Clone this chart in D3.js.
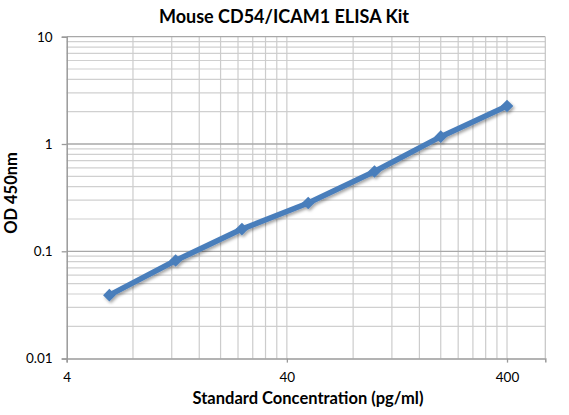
<!DOCTYPE html>
<html>
<head>
<meta charset="utf-8">
<script src="https://cdn.jsdelivr.net/npm/d3@7"></script>
<style>
  body { margin: 0; background: #fff; }
  svg { display: block; font-family: Lato, "Open Sans", sans-serif; }
</style>
</head>
<body>
<div id="chart"></div>
<script>
// Standard curve, log-log
const concentrations = [6.25, 12.5, 25, 50, 100, 200, 400];
const odValues = [0.039, 0.082, 0.161, 0.282, 0.554, 1.17, 2.26];
const xTicks = [4, 40, 400];
const yTicks = [0.01, 0.1, 1, 10];
const xDomain = [4, 597];
const yDomain = [0.01, 10];

const width = 569, height = 415;
const margin = { top: 36.7, right: 23.7, bottom: 56.4, left: 66.7 };
const w = width - margin.left - margin.right;
const h = height - margin.top - margin.bottom;

const svg = d3.select("#chart")
  .append("svg")
    .attr("width", width)
    .attr("height", height);

// drop shadow for the line and markers
const defs = svg.append("defs");
defs.append("filter")
    .attr("id", "shadow")
    .attr("x", "-20%").attr("y", "-20%")
    .attr("width", "140%").attr("height", "140%")
  .append("feDropShadow")
    .attr("dx", 1.5).attr("dy", 2)
    .attr("stdDeviation", 1.5)
    .attr("flood-color", "#000")
    .attr("flood-opacity", 0.35);

const g = svg.append("g")
    .attr("transform", `translate(${margin.left},${margin.top})`);

const x = d3.scaleLog().domain(xDomain).range([0, w]);
const y = d3.scaleLog().domain(yDomain).range([h, 0]);

// minor positions: multiples of each major (Excel style)
const xMinor = [];
xTicks.forEach(t => { for (let k = 2; k <= 9; k++) if (t * k <= xDomain[1]) xMinor.push(t * k); });
const yMinor = [];
yTicks.slice(0, -1).forEach(t => { for (let k = 2; k <= 9; k++) yMinor.push(t * k); });

// gridlines
g.append("g").selectAll("line")
  .data(yMinor)
  .join("line")
    .attr("x1", 0).attr("x2", w)
    .attr("y1", d => y(d)).attr("y2", d => y(d))
    .attr("stroke", "#d0d0d0")
    .attr("stroke-width", 1.2);

g.append("g").selectAll("line")
  .data(xMinor.concat(xTicks.slice(1)))
  .join("line")
    .attr("x1", d => x(d)).attr("x2", d => x(d))
    .attr("y1", 0).attr("y2", h)
    .attr("stroke", "#cccccc")
    .attr("stroke-width", 1.2);

g.append("g").selectAll("line")
  .data(yTicks.slice(1))
  .join("line")
    .attr("x1", 0).attr("x2", w)
    .attr("y1", d => y(d)).attr("y2", d => y(d))
    .attr("stroke", "#a8a8a8")
    .attr("stroke-width", 1.3);

// right border
g.append("line")
    .attr("x1", w).attr("x2", w)
    .attr("y1", 0).attr("y2", h)
    .attr("stroke", "#c4c4c4")
    .attr("stroke-width", 1.2);

// axes
const xAxis = g.append("g")
    .attr("transform", `translate(0,${h})`)
    .call(d3.axisBottom(x).tickValues(xTicks).tickFormat(d3.format("d")).tickSize(4).tickPadding(10));

const yAxis = g.append("g")
    .call(d3.axisLeft(y).tickValues(yTicks).tickFormat(d => d).tickSize(5).tickPadding(9));

[xAxis, yAxis].forEach(a => {
  a.select(".domain").attr("stroke", "#9a9a9a").attr("stroke-width", 1.5);
  a.selectAll(".tick line").attr("stroke", "#9a9a9a").attr("stroke-width", 1.3);
  a.selectAll(".tick text")
    .attr("fill", "#000")
    .style("font-family", "Lato, sans-serif")
    .style("font-size", "13.5px");
});

// line + markers
const line = d3.line()
  .x((d, i) => x(concentrations[i]))
  .y(d => y(d));

const series = g.append("g").attr("filter", "url(#shadow)");

series.append("path")
    .datum(odValues)
    .attr("fill", "none")
    .attr("stroke", "#4a7ebb")
    .attr("stroke-width", 5.5)
    .attr("stroke-linejoin", "round")
    .attr("d", line);

series.selectAll("path.pt")
  .data(odValues)
  .join("path")
    .attr("class", "pt")
    .attr("d", d3.symbol(d3.symbolSquare, 80))
    .attr("transform", (d, i) => `translate(${x(concentrations[i])},${y(d)}) rotate(45)`)
    .attr("fill", "#4a7ebb");

// titles
svg.append("text")
    .attr("x", 284)
    .attr("y", 23)
    .attr("text-anchor", "middle")
    .style("font-weight", "bold")
    .style("font-size", "18px")
    .text("Mouse CD54/ICAM1 ELISA Kit");

svg.append("text")
    .attr("x", 308)
    .attr("y", 404)
    .attr("text-anchor", "middle")
    .style("font-weight", "bold")
    .style("font-size", "16.5px")
    .text("Standard Concentration (pg/ml)");

svg.append("text")
    .attr("transform", "translate(17,193) rotate(-90)")
    .attr("text-anchor", "middle")
    .style("font-weight", "bold")
    .style("font-size", "16.5px")
    .text("OD 450nm");
</script>
</body>
</html>
